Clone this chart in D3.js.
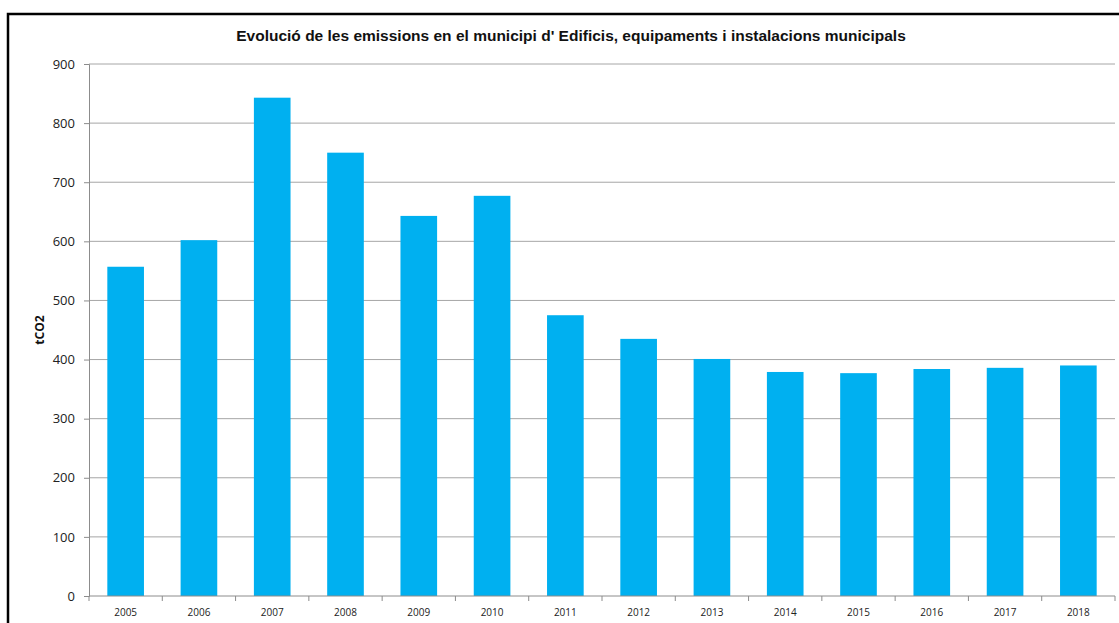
<!DOCTYPE html>
<html><head><meta charset="utf-8">
<script src="https://cdn.jsdelivr.net/npm/d3@7"></script>
<style>body{margin:0;background:#fff}svg{display:block}</style>
</head><body>
<svg id="c" width="1119" height="623"></svg>
<script>
const years = ["2005","2006","2007","2008","2009","2010","2011","2012","2013","2014","2015","2016","2017","2018"];
const emissions = [557,602,843,750,643,677,475,435,401,379,377,384,386,390];
const yTicks = [0,100,200,300,400,500,600,700,800,900];
const titleText = "Evolució de les emissions en el municipi d' Edificis, equipaments i instalacions municipals";
const yLabel = "tCO2";

const svg = d3.select("#c");
const m = {left:89, right:1115, top:64, bottom:596};
svg.append("rect").attr("x",8).attr("y",14).attr("width",1130).attr("height",640)
  .attr("fill","#fff").attr("stroke","#000").attr("stroke-width",2.5);

const x = d3.scaleBand().domain(years).range([m.left,m.right]).paddingInner(0.5).paddingOuter(0.25);
const y = d3.scaleLinear().domain([0,900]).range([m.bottom,m.top]);

// gridlines
svg.append("g").selectAll("line").data(yTicks.filter(d=>d>0)).join("line")
  .attr("x1",m.left).attr("x2",m.right).attr("y1",d=>y(d)).attr("y2",d=>y(d))
  .attr("stroke","#a6a6a6").attr("stroke-width",1);

// bars
svg.append("g").selectAll("rect").data(years).join("rect")
  .attr("x",d=>x(d)).attr("width",x.bandwidth())
  .attr("y",(d,i)=>y(emissions[i])).attr("height",(d,i)=>y(0)-y(emissions[i]))
  .attr("fill","#00b0f0");

// y axis
const ya = d3.axisLeft(y).tickValues(yTicks).tickSize(5).tickPadding(9);
const gy = svg.append("g").attr("transform",`translate(${m.left},0)`).call(ya);
gy.select(".domain").attr("stroke","#8c8c8c");
gy.selectAll(".tick line").attr("stroke","#8c8c8c");
gy.selectAll("text").attr("font-family","'Open Sans', 'Liberation Sans', sans-serif").attr("font-size",13).attr("fill","#222");

// x axis
const gx = svg.append("g").attr("transform",`translate(0,${m.bottom})`);
gx.append("line").attr("x1",m.left).attr("x2",m.right).attr("stroke","#8c8c8c");
const bounds = d3.range(years.length+1).map(i=>m.left + i*(m.right-m.left)/years.length);
gx.selectAll("line.t").data(bounds).join("line").attr("class","t")
  .attr("x1",d=>d).attr("x2",d=>d).attr("y1",0).attr("y2",5).attr("stroke","#8c8c8c");
gx.selectAll("text").data(years).join("text")
  .attr("x",d=>x(d)+x.bandwidth()/2).attr("y",20).attr("text-anchor","middle")
  .attr("font-family","'Open Sans', 'Liberation Sans', sans-serif").attr("font-size",10).attr("fill","#222")
  .text(d=>d);

// title
svg.append("text").attr("x",571).attr("y",41).attr("text-anchor","middle")
  .attr("font-family","'Liberation Sans', Arial, sans-serif").attr("font-weight","bold").attr("font-size",15.5)
  .attr("fill","#111").text(titleText);

// y label
svg.append("text").attr("transform","translate(44,330) rotate(-90)").attr("text-anchor","middle")
  .attr("font-family","'Open Sans', 'Liberation Sans', sans-serif").attr("font-weight","bold").attr("font-size",12)
  .attr("fill","#111").text(yLabel);
</script>
</body></html>
